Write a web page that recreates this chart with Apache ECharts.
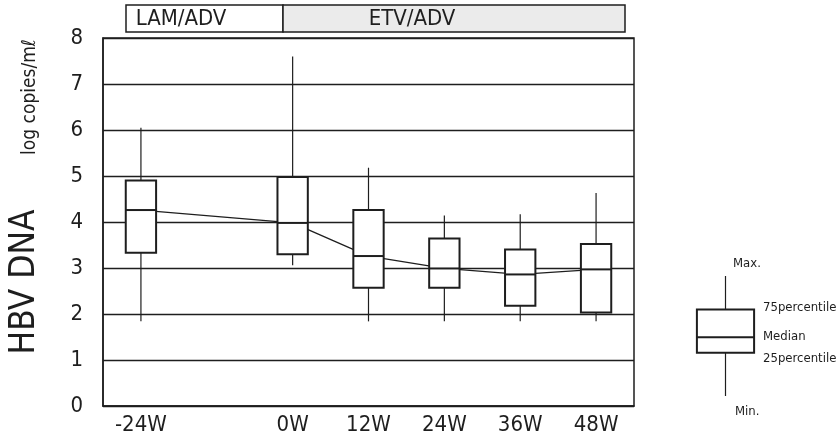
<!DOCTYPE html>
<html>
<head>
<meta charset="utf-8">
<script src="https://cdn.jsdelivr.net/npm/echarts@6/dist/echarts.min.js"></script>
<style>
  html, body { margin: 0; padding: 0; background: #fff; }
  #chart { width: 839px; height: 438px; }
</style>
</head>
<body>
<div id="chart"></div>
<script>
// 横轴：-12W 处留空
const weeks = ['-24W', '', '0W', '12W', '24W', '36W', '48W'];
const yTicks = [0, 1, 2, 3, 4, 5, 6, 7, 8];

// 各时间点的箱线数据（log copies/ml）
const boxWeeks = ['-24W', '0W', '12W', '24W', '36W', '48W'];
const minVals = [1.84, 3.06, 1.84, 1.84, 1.84, 1.84];
const q1Vals = [3.33, 3.30, 2.57, 2.57, 2.18, 2.03];
const medianVals = [4.26, 3.98, 3.26, 2.99, 2.86, 2.97];
const q3Vals = [4.90, 4.98, 4.26, 3.64, 3.40, 3.52];
const maxVals = [6.05, 7.60, 5.18, 4.14, 4.17, 4.63];

// 图例用的示意箱
const legendBox = [0, 3.6, 4.9, 7.2, 10];

const FONT = '"Liberation Sans Narrow", "DejaVu Sans Condensed", sans-serif';
const INK = '#1e1e1e';

const boxData = boxWeeks.map((w, i) => [w, minVals[i], q1Vals[i], medianVals[i], q3Vals[i], maxVals[i]]);
const medianLine = boxWeeks.map((w, i) => [w, medianVals[i]]);

// 自定义箱形：无须须端横线
function renderBox(params, api) {
    const x = api.value(0);
    const lo = api.coord([x, api.value(1)]);
    const q1 = api.coord([x, api.value(2)]);
    const md = api.coord([x, api.value(3)]);
    const q3 = api.coord([x, api.value(4)]);
    const hi = api.coord([x, api.value(5)]);
    const half = api.size([1, 0])[0] * 0.2;
    const cx = md[0];
    const thin = { stroke: INK, lineWidth: 1.2 };
    const thick = { stroke: INK, lineWidth: 2 };
    return {
        type: 'group',
        children: [
            { type: 'line', shape: { x1: cx, y1: hi[1], x2: cx, y2: q3[1] }, style: thin },
            { type: 'line', shape: { x1: cx, y1: q1[1], x2: cx, y2: lo[1] }, style: thin },
            { type: 'rect', shape: { x: cx - half, y: q3[1], width: half * 2, height: q1[1] - q3[1] },
              style: { fill: '#fff', stroke: INK, lineWidth: 2 } },
            { type: 'line', shape: { x1: cx - half, y1: md[1], x2: cx + half, y2: md[1] }, style: thick }
        ]
    };
}

const myChart = echarts.init(document.getElementById('chart'), null, { renderer: 'canvas' });

const legendText = (text, x, y) => ({
    type: 'text', left: x, top: y - 8,
    style: { text: text, fill: INK, font: '13px ' + FONT }
});

const option = {
    animation: false,
    backgroundColor: '#fff',
    grid: [
        { left: 103, top: 38, width: 531, height: 368, show: true, borderColor: INK, borderWidth: 1.5 },
        { left: 654, top: 276, width: 143, height: 120 }
    ],
    xAxis: [
        {
            type: 'category', gridIndex: 0, data: weeks,
            axisLine: { lineStyle: { color: INK, width: 1.5 } },
            axisTick: { inside: true, length: 4, lineStyle: { color: INK } },
            axisLabel: { color: INK, fontSize: 22, fontFamily: FONT, margin: 8 }
        },
        { type: 'category', gridIndex: 1, data: ['k'], show: false }
    ],
    yAxis: [
        {
            type: 'value', gridIndex: 0, min: yTicks[0], max: yTicks[yTicks.length - 1], interval: 1,
            axisLine: { show: true, lineStyle: { color: INK, width: 1.5 } },
            axisTick: { show: false },
            axisLabel: { color: INK, fontSize: 22, fontFamily: FONT, margin: 20 },
            splitLine: { lineStyle: { color: INK, width: 1.4 } }
        },
        { type: 'value', gridIndex: 1, min: 0, max: 10, show: false }
    ],
    series: [
        {
            type: 'line', xAxisIndex: 0, yAxisIndex: 0, data: medianLine,
            symbol: 'none', z: 2,
            lineStyle: { color: INK, width: 1.3 }
        },
        {
            type: 'custom', xAxisIndex: 0, yAxisIndex: 0, data: boxData, z: 3,
            encode: { x: 0, y: [1, 2, 3, 4, 5] },
            renderItem: renderBox
        },
        {
            type: 'custom', xAxisIndex: 1, yAxisIndex: 1, data: [['k'].concat(legendBox)], z: 3,
            encode: { x: 0, y: [1, 2, 3, 4, 5] },
            renderItem: renderBox
        }
    ],
    graphic: [
        // 顶部分组标签
        { type: 'rect', shape: { x: 126, y: 5, width: 157, height: 27 },
          style: { fill: '#fff', stroke: INK, lineWidth: 1.5 } },
        { type: 'rect', shape: { x: 283, y: 5, width: 342, height: 27 },
          style: { fill: '#ebebeb', stroke: INK, lineWidth: 1.5 } },
        { type: 'text', x: 181, y: 19,
          style: { text: 'LAM/ADV', fill: INK, font: '22px ' + FONT, textAlign: 'center', textVerticalAlign: 'middle' } },
        { type: 'text', x: 412, y: 19,
          style: { text: 'ETV/ADV', fill: INK, font: '22px ' + FONT, textAlign: 'center', textVerticalAlign: 'middle' } },
        // 纵轴标题
        { type: 'text', x: 25, y: 282, rotation: Math.PI / 2,
          style: { text: 'HBV DNA', fill: INK, font: '35px ' + FONT, textAlign: 'center', textVerticalAlign: 'middle' } },
        { type: 'text', x: 30, y: 97, rotation: Math.PI / 2,
          style: { text: 'log copies/mℓ', fill: INK, font: '19px ' + FONT, textAlign: 'center', textVerticalAlign: 'middle' } },
        // 图例说明
        legendText('Max.', 733, 265),
        legendText('75percentile', 763, 309),
        legendText('Median', 763, 338),
        legendText('25percentile', 763, 360),
        legendText('Min.', 735, 413)
    ]
};

myChart.setOption(option, true);
</script>
</body>
</html>
